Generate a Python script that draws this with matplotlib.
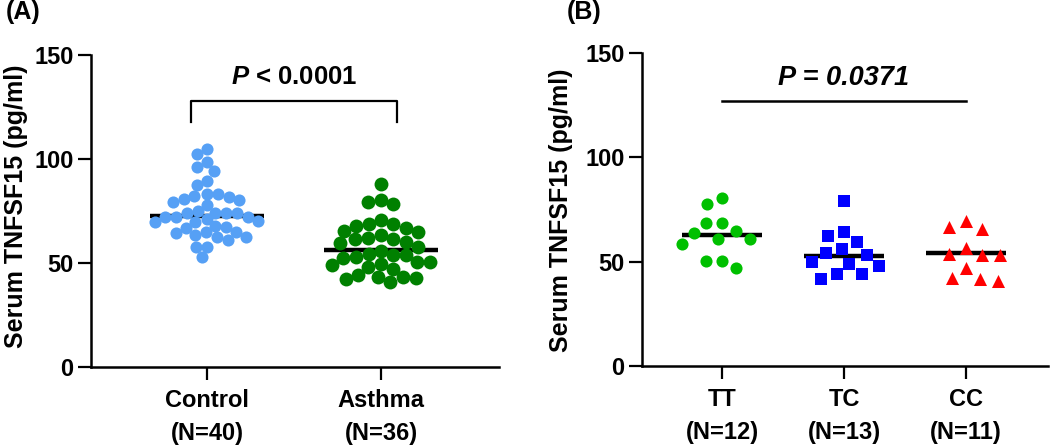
#!/usr/bin/env python3
"""Serum TNFSF15 scatter plots: Control vs Asthma, and by genotype."""

import numpy as np
import matplotlib

matplotlib.use("Agg")
import matplotlib.pyplot as plt

# ---- data (pg/ml) ----
CONTROL = [104.8, 102.3, 98.4, 96.3, 94.4, 89.6, 87.5, 83.2, 83.0, 82.4,
           81.6, 80.8, 80.3, 79.5, 77.7, 75.0, 74.2, 73.9, 73.9, 73.9,
           72.3, 72.3, 72.0, 71.0, 70.3, 69.9, 69.9, 67.8, 67.5, 66.7,
           65.0, 65.0, 64.3, 63.5, 62.6, 62.6, 61.1, 57.8, 57.5, 53.0]
ASTHMA = [87.8, 80.3, 79.5, 78.2, 70.7, 68.8, 68.8, 67.8, 66.7, 65.4,
          65.0, 63.5, 61.9, 61.5, 61.5, 60.2, 59.5, 57.8, 56.0, 54.3,
          53.8, 53.8, 52.7, 52.3, 50.6, 50.3, 49.5, 49.0, 47.9, 47.1,
          44.2, 43.4, 43.1, 42.6, 42.2, 40.7]
TT = [80.4, 77.6, 68.4, 68.4, 64.8, 63.6, 61.0, 61.0, 58.5, 50.5, 50.3, 46.8]
TC = [79.2, 64.4, 62.3, 59.3, 55.9, 54.3, 53.0, 50.0, 48.9, 47.8, 43.9, 43.9, 41.7]
CC = [69.6, 66.5, 65.5, 56.7, 53.6, 53.2, 53.2, 47.1, 42.0, 41.7, 40.7]

MEDIANS_A = [72.6, 56.3]
MEDIANS_B = [62.6, 52.7, 54.0]

LABELS_A = ["Control\n(N=40)", "Asthma\n(N=36)"]
LABELS_B = ["TT\n(N=12)", "TC\n(N=13)", "CC\n(N=11)"]
P_TEXT_A = r"$\mathbfit{P}$ < 0.0001"
P_TEXT_B = "P = 0.0371"
YLABEL = "Serum TNFSF15 (pg/ml)"


def swarm_x(ax, center, values, gap_px):
    """Greedy beeswarm: return x positions (data units) so dots do not pile up."""
    vals = np.asarray(values, dtype=float)
    pix = ax.transData.transform(np.column_stack([np.full(len(vals), center), vals]))
    cx = pix[0, 0]
    ys = pix[:, 1]
    xs = np.full(len(vals), cx)
    placed = []
    for i in np.argsort(-vals):
        cands = [cx]
        for j in placed:
            dy = ys[i] - ys[j]
            if abs(dy) < gap_px:
                dx = np.sqrt(gap_px ** 2 - dy ** 2)
                cands += [xs[j] - dx, xs[j] + dx]
        cands.sort(key=lambda c: (abs(c - cx), c))
        for c in cands:
            ok = all((c - xs[j]) ** 2 + (ys[i] - ys[j]) ** 2 >= gap_px ** 2 - 1e-6 for j in placed)
            if ok:
                xs[i] = c
                break
        placed.append(i)
    back = ax.transData.inverted().transform(np.column_stack([xs, ys]))
    return back[:, 0]


def style_axes(ax, labels):
    ax.set_ylim(0, 150)
    ax.set_yticks([0, 50, 100, 150])
    ax.set_xticks(range(len(labels)))
    ax.set_xticklabels(labels, linespacing=1.6)
    ax.spines[["top", "right"]].set_visible(False)
    ax.spines["left"].set_bounds(0, 150)
    ax.tick_params(axis="both", length=9.5, width=1.6, labelsize=17)
    ax.tick_params(axis="y", pad=3)
    ax.tick_params(axis="x", pad=6)


def main() -> None:
    plt.rcParams.update(
        {
            "font.family": ["Liberation Sans", "DejaVu Sans"],
            "font.weight": "bold",
            "font.size": 17,
            "axes.linewidth": 1.8,
            "mathtext.fontset": "custom",
            "mathtext.rm": "Liberation Sans:bold",
            "mathtext.bfit": "Liberation Sans:italic:bold",
            "figure.facecolor": "white",
        }
    )

    fig = plt.figure(figsize=(10.5, 4.48), dpi=100)
    W, H = 1050, 448
    ax_a = fig.add_axes([91 / W, (H - 367) / H, 408 / W, 312 / H])
    ax_b = fig.add_axes([642 / W, (H - 366) / H, 406 / W, 313 / H])

    # panel A
    ax_a.set_xlim(-0.667, 1.678)
    style_axes(ax_a, LABELS_A)
    for k, med in enumerate(MEDIANS_A):
        ax_a.plot([k - 0.33, k + 0.33], [med, med], color="black", lw=3.2, solid_capstyle="butt", zorder=2)
    ax_a.scatter(swarm_x(ax_a, 0, CONTROL, 11.0), CONTROL, s=76, color="#56A0F5", linewidths=0, zorder=3)
    ax_a.scatter(swarm_x(ax_a, 1, ASTHMA, 13.0), ASTHMA, s=100, color="#008000", linewidths=0, zorder=3)
    ax_a.plot([-0.09, -0.09, 1.09, 1.09], [118, 128, 128, 118], color="black", lw=1.6, clip_on=False)
    ax_a.text(0.5, 139.4, P_TEXT_A, ha="center", va="center", fontsize=18.5, fontweight="bold")

    # panel B
    ax_b.set_xlim(-0.656, 2.672)
    style_axes(ax_b, LABELS_B)
    for k, med in enumerate(MEDIANS_B):
        ax_b.plot([k - 0.33, k + 0.33], [med, med], color="black", lw=3.2, solid_capstyle="butt", zorder=2)
    ax_b.scatter(swarm_x(ax_b, 0, TT, 16.0), TT, s=76, marker="o", color="#00C000", linewidths=0, zorder=3)
    ax_b.scatter(swarm_x(ax_b, 1, TC, 16.5), TC, s=74, marker="s", color="#0000FF", linewidths=0, zorder=3)
    ax_b.scatter(swarm_x(ax_b, 2, CC, 18.0), CC, s=88, marker="^", color="#FF0000", linewidths=0, zorder=3)
    ax_b.plot([0, 2], [127, 127], color="black", lw=1.8, clip_on=False)
    ax_b.text(1, 138, P_TEXT_B, ha="center", va="center", fontsize=19.5, fontweight="bold", style="italic")

    # y labels and panel letters
    fig.text(16 / W, 1 - 206.5 / H, YLABEL, rotation=90, ha="center", va="center", fontsize=18)
    fig.text(561 / W, 1 - 210 / H, YLABEL, rotation=90, ha="center", va="center", fontsize=18)
    fig.text(6 / W, 1 - 12 / H, "(A)", ha="left", va="center", fontsize=18)
    fig.text(567 / W, 1 - 12 / H, "(B)", ha="left", va="center", fontsize=18)

    fig.savefig("out.png", dpi=100)


if __name__ == "__main__":
    main()
